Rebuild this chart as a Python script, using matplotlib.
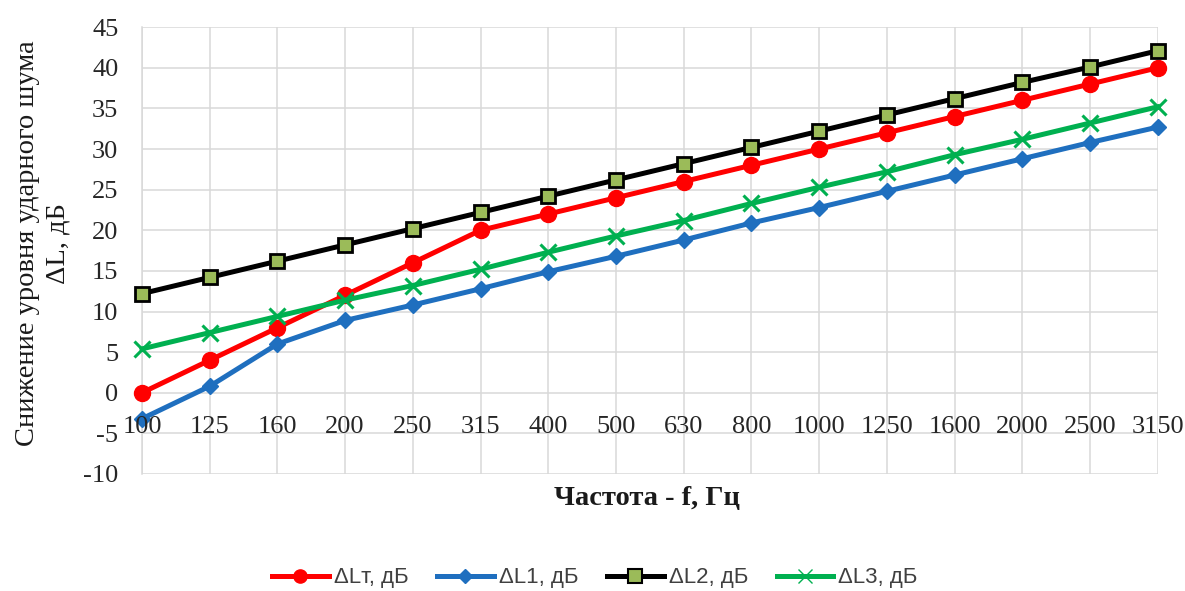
import matplotlib
matplotlib.use("Agg")
import matplotlib.pyplot as plt
from matplotlib.lines import Line2D

plt.rcParams["axes.unicode_minus"] = False

freqs = ["100", "125", "160", "200", "250", "315", "400", "500", "630", "800",
         "1000", "1250", "1600", "2000", "2500", "3150"]
dLt = [0, 4, 8, 12, 16, 20, 22, 24, 26, 28, 30, 32, 34, 36, 38, 40]
dL1 = [-3.2, 0.8, 6, 8.9, 10.8, 12.8, 14.9, 16.8, 18.8, 20.9, 22.8, 24.8, 26.8, 28.8, 30.8, 32.7]
dL2 = [12.2, 14.2, 16.2, 18.2, 20.2, 22.2, 24.2, 26.2, 28.2, 30.2, 32.2, 34.2, 36.2, 38.2, 40.1, 42.1]
dL3 = [5.4, 7.4, 9.4, 11.4, 13.2, 15.2, 17.3, 19.3, 21.2, 23.3, 25.3, 27.2, 29.3, 31.2, 33.2, 35.2]
y_ticks = [-10, -5, 0, 5, 10, 15, 20, 25, 30, 35, 40, 45]

fig = plt.figure(figsize=(11.85, 5.91), dpi=100)
ax = fig.add_axes([0.1198, 0.198, 0.977 - 0.1198, 0.954 - 0.198])

x = list(range(len(freqs)))
lw = 3.6
ax.plot(x, dLt, color="#FF0000", lw=lw, marker="o", ms=11.5, zorder=3, clip_on=False)
ax.plot(x, dL1, color="#1F6FBF", lw=lw, marker="D", ms=8.5, zorder=3, clip_on=False)
ax.plot(x, dL2, color="#000000", lw=lw, marker="s", ms=10.5, mfc="#9BBB59", mec="#000000",
        mew=2, zorder=4, clip_on=False)
ax.plot(x, dL3, color="#00B050", lw=lw, marker="x", ms=12, mew=2.2, zorder=3, clip_on=False)

ax.set_xlim(0, len(freqs) - 1)
ax.set_ylim(-10, 45)
ax.set_yticks(y_ticks)
ax.set_xticks(x)
ax.grid(True, color="#D9D9D9", lw=1.1)
ax.set_axisbelow(True)
for s in ["top", "right", "bottom"]:
    ax.spines[s].set_visible(False)
ax.spines["left"].set_color("#D9D9D9")
ax.spines["left"].set_linewidth(1.1)
ax.tick_params(axis="both", length=0)
ax.set_xticklabels([])

serif = "Liberation Serif"
for lab in ax.get_yticklabels():
    lab.set_fontfamily(serif)
    lab.set_fontsize(19)
    lab.set_color("#262626")
ax.tick_params(axis="y", pad=17)

for xi, f in zip(x, freqs):
    ax.annotate(f, (xi, 0), xytext=(0, -24.5), textcoords="offset points",
                ha="center", va="center", fontsize=19, family=serif, color="#262626")

fig.text(0.036, 0.588, "Снижение уровня ударного шума\nΔL, дБ", rotation=90,
         ha="center", va="center", fontsize=20.5, family=serif, linespacing=1.25, color="#1a1a1a")
fig.text(0.546, 0.156, "Частота - f, Гц", ha="center", va="center",
         fontsize=20.5, family=serif, weight="bold", color="#1a1a1a")

handles = [
    Line2D([], [], color="#FF0000", lw=lw, marker="o", ms=9.5),
    Line2D([], [], color="#1F6FBF", lw=lw, marker="D", ms=7),
    Line2D([], [], color="#000000", lw=lw, marker="s", ms=10, mfc="#9BBB59", mec="#000000", mew=1.5),
    Line2D([], [], color="#00B050", lw=lw, marker="x", ms=10, mew=1),
]
labels = ["ΔLт, дБ", "ΔL1, дБ", "ΔL2, дБ", "ΔL3, дБ"]
leg = fig.legend(handles, labels, loc="center", bbox_to_anchor=(0.502, 0.022), ncol=4,
                 frameon=False, prop={"family": "Liberation Sans", "size": 16},
                 handlelength=2.55, handletextpad=0.22, columnspacing=1.3)
for t in leg.get_texts():
    t.set_color("#404040")

fig.savefig("out.png", dpi=100)
